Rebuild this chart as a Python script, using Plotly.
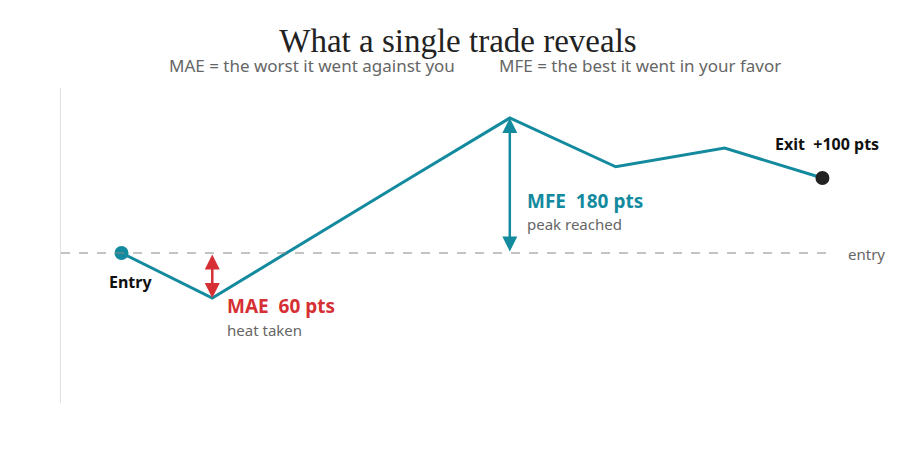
import plotly.graph_objects as go

t = [0, 0.9, 2.8, 3.85, 4.9, 5.98, 6.95]
pnl = [0, -60, 95, 180, 115, 140, 100]
mae = -60
mfe = 180
exit_pts = 100

TEAL = "#138a9e"
RED = "#d62f34"
GRAY = "#666666"
FONT = "Noto Sans"

fig = go.Figure()
fig.add_trace(go.Scatter(x=t, y=pnl, mode="lines", line=dict(color=TEAL, width=3),
                         hoverinfo="skip", showlegend=False))
fig.add_trace(go.Scatter(x=[t[0]], y=[pnl[0]], mode="markers",
                         marker=dict(color=TEAL, size=14), showlegend=False))
fig.add_trace(go.Scatter(x=[t[-1]], y=[pnl[-1]], mode="markers",
                         marker=dict(color="#222222", size=14), showlegend=False))

fig.add_shape(type="line", x0=-0.6, x1=7.05, y0=0, y1=0,
              line=dict(color="#888888", width=1.2, dash="dash"))

ann = []
ann.append(dict(x=t[1], y=mae, ax=t[1], ay=0, xref="x", yref="y", axref="x", ayref="y",
                showarrow=True, arrowhead=2, startarrowhead=2, arrowside="end+start",
                arrowsize=1.2, arrowwidth=2.5, arrowcolor=RED, text=""))
ann.append(dict(x=t[3], y=mfe, ax=t[3], ay=0, xref="x", yref="y", axref="x", ayref="y",
                showarrow=True, arrowhead=2, startarrowhead=2, arrowside="end+start",
                arrowsize=1.2, arrowwidth=2.5, arrowcolor=TEAL, text=""))

def txt(x, y, s, size, color, bold=False, xanchor="left"):
    ann.append(dict(x=x, y=y, xref="x", yref="y", text=f"<b>{s}</b>" if bold else s,
                    showarrow=False, xanchor=xanchor, yanchor="middle",
                    font=dict(family=FONT, size=size, color=color)))

txt(-0.14, -38, "Entry", 16, "#111111", bold=True)
txt(t[-1] + 0.58, 146, f"Exit  +{exit_pts} pts", 16, "#111111", bold=True, xanchor="right")
txt(1.03, -70, f"MAE  {abs(mae)} pts", 19, RED, bold=True)
txt(1.03, -103, "heat taken", 15, GRAY)
txt(4.0, 70, f"MFE  {mfe} pts", 19, TEAL, bold=True)
txt(4.0, 39, "peak reached", 15, GRAY)
txt(7.18, -1, "entry", 15, GRAY)

fig.update_layout(
    width=900, height=460,
    margin=dict(l=53, r=20, t=80, b=65),
    paper_bgcolor="white", plot_bgcolor="white",
    title=dict(text="What a single trade reveals", x=0.5, xanchor="center", y=0.955,
               font=dict(family="Liberation Serif", size=33, color="#222222")),
    annotations=ann + [dict(xref="paper", yref="paper", x=0.5, y=1.03, yanchor="bottom",
                            showarrow=False,
                            text="MAE = the worst it went against you          MFE = the best it went in your favor",
                            font=dict(family=FONT, size=17, color=GRAY))],
    xaxis=dict(range=[-0.6, 7.6], visible=False, fixedrange=True),
    yaxis=dict(range=[-200, 220], showgrid=False, zeroline=False, showticklabels=False,
               showline=True, linecolor="#e0e0e0", linewidth=1, fixedrange=True),
)
fig.write_html("out.html")
